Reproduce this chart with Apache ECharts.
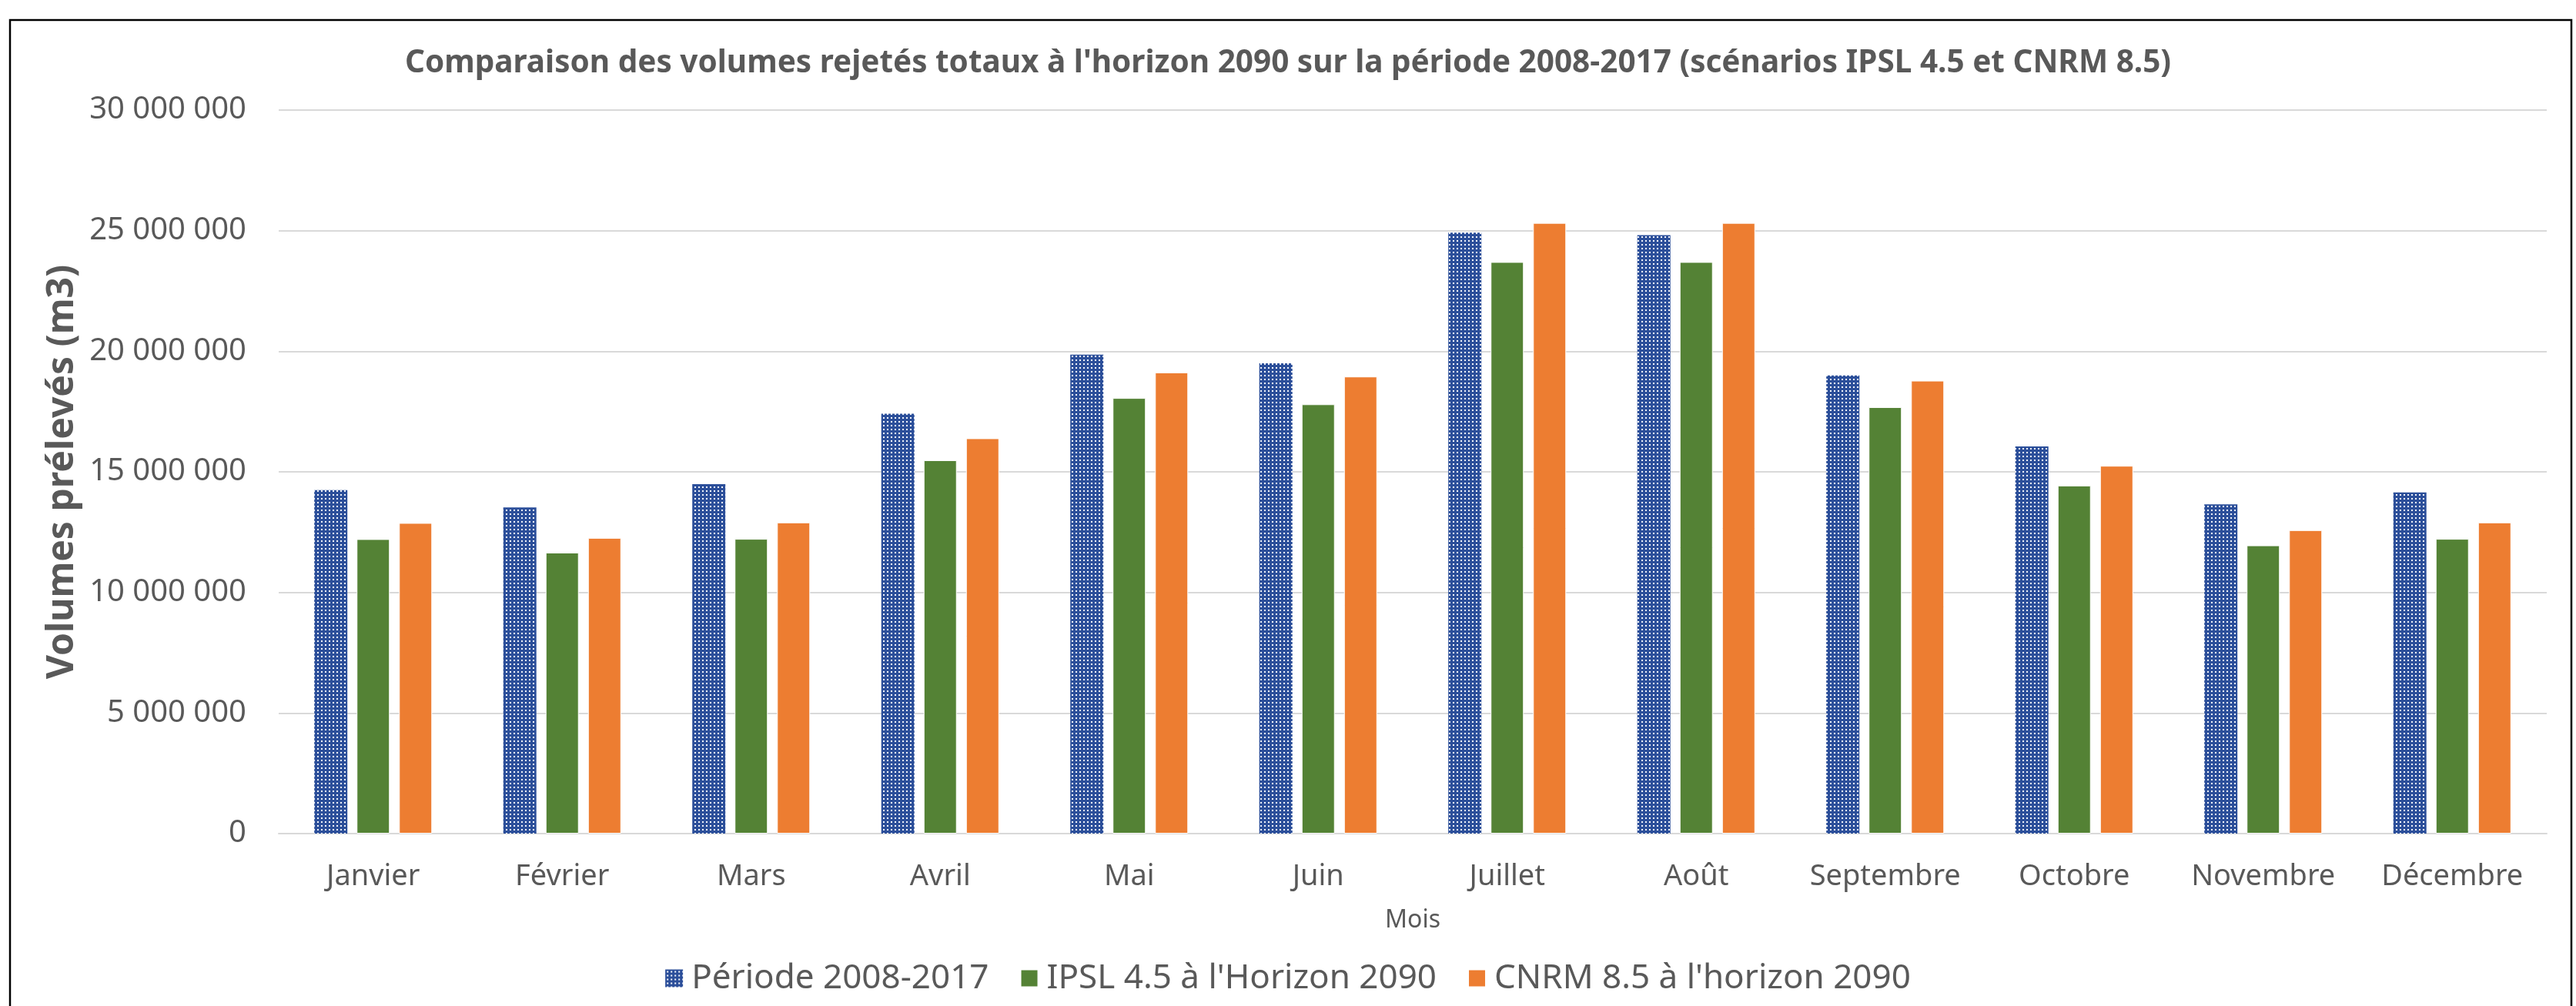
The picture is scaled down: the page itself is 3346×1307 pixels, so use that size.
<!DOCTYPE html>
<html>
<head>
<meta charset="utf-8">
<script src="https://cdn.jsdelivr.net/npm/echarts@6/dist/echarts.min.js"></script>
<style>
  html, body { margin: 0; padding: 0; background: #fff; }
  #chart { width: 3346px; height: 1307px; }
</style>
</head>
<body>
<div id="chart"></div>
<script>
const months = ['Janvier', 'Février', 'Mars', 'Avril', 'Mai', 'Juin', 'Juillet', 'Août', 'Septembre', 'Octobre', 'Novembre', 'Décembre']
const seriesNames = ['Période 2008-2017', "IPSL 4.5 à l'Horizon 2090", "CNRM 8.5 à l'horizon 2090"]
const periode = [14240000, 13520000, 14490000, 17410000, 19860000, 19500000, 24920000, 24810000, 19000000, 16050000, 13650000, 14150000]
const ipsl = [12210000, 11650000, 12220000, 15480000, 18060000, 17800000, 23700000, 23700000, 17680000, 14430000, 11950000, 12220000]
const cnrm = [12880000, 12260000, 12900000, 16390000, 19120000, 18950000, 25320000, 25320000, 18780000, 15250000, 12580000, 12900000]
const yTicks = [0, 5000000, 10000000, 15000000, 20000000, 25000000, 30000000]

const textColor = '#595959'
const font = '"Noto Sans", "Open Sans", sans-serif'

// dotted blue pattern for the first series
function dotPattern() {
  const c = document.createElement('canvas')
  c.width = 5
  c.height = 5
  const ctx = c.getContext('2d')
  ctx.fillStyle = '#2c4f9a'
  ctx.fillRect(0, 0, 5, 5)
  ctx.fillStyle = '#f2f5fb'
  ctx.fillRect(2, 2, 2, 2)
  return c
}

const fmt = v => String(v).replace(/\B(?=(\d{3})+(?!\d))/g, ' ')

const chart = echarts.init(document.getElementById('chart'))
chart.setOption({
  animation: false,
  backgroundColor: '#fff',
  textStyle: { fontFamily: font },
  title: {
    text: "Comparaison des volumes rejetés totaux à l'horizon 2090 sur la période 2008-2017 (scénarios IPSL 4.5 et CNRM 8.5)",
    left: 'center',
    top: 57,
    textStyle: { fontSize: 40.5, fontWeight: 'bold', color: textColor, fontFamily: font }
  },
  legend: {
    left: 'center',
    top: 1244,
    itemWidth: 23,
    itemHeight: 23,
    itemGap: 40,
    icon: 'rect',
    textStyle: { fontSize: 44, color: textColor, fontFamily: font, padding: [0, 0, 0, 6] }
  },
  graphic: [{
    type: 'rect',
    shape: { x: 13, y: 26, width: 3327, height: 1400 },
    style: { fill: 'none', stroke: '#000', lineWidth: 2.5 },
    silent: true
  }],
  grid: { left: 362, right: 38, top: 143, bottom: 224 },
  xAxis: {
    type: 'category',
    data: months,
    name: 'Mois',
    nameLocation: 'middle',
    nameGap: 97,
    nameTextStyle: { fontSize: 32, color: textColor },
    axisLine: { lineStyle: { color: '#d9d9d9', width: 2 } },
    axisTick: { show: false },
    axisLabel: { fontSize: 38, color: textColor, margin: 37, interval: 0 }
  },
  yAxis: {
    type: 'value',
    min: yTicks[0],
    max: yTicks[yTicks.length - 1],
    interval: yTicks[1] - yTicks[0],
    name: 'Volumes prélevés (m3)',
    nameLocation: 'middle',
    nameGap: 252,
    nameTextStyle: { fontSize: 48, fontWeight: 'bold', color: textColor },
    axisLine: { show: false },
    axisTick: { show: false },
    splitLine: { lineStyle: { color: '#d9d9d9', width: 2 } },
    axisLabel: { fontSize: 40, color: textColor, margin: 42, formatter: fmt }
  },
  series: [
    {
      name: seriesNames[0],
      type: 'bar',
      data: periode,
      barWidth: 43,
      barGap: '28%',
      itemStyle: { color: { image: dotPattern(), repeat: 'repeat' } }
    },
    {
      name: seriesNames[1],
      type: 'bar',
      data: ipsl,
      barWidth: 43,
      barGap: '28%',
      itemStyle: { color: '#548235', borderColor: '#fff', borderWidth: 1 }
    },
    {
      name: seriesNames[2],
      type: 'bar',
      data: cnrm,
      barWidth: 43,
      barGap: '28%',
      itemStyle: { color: '#ed7d31', borderColor: '#fff', borderWidth: 1 }
    }
  ]
})
</script>
</body>
</html>
